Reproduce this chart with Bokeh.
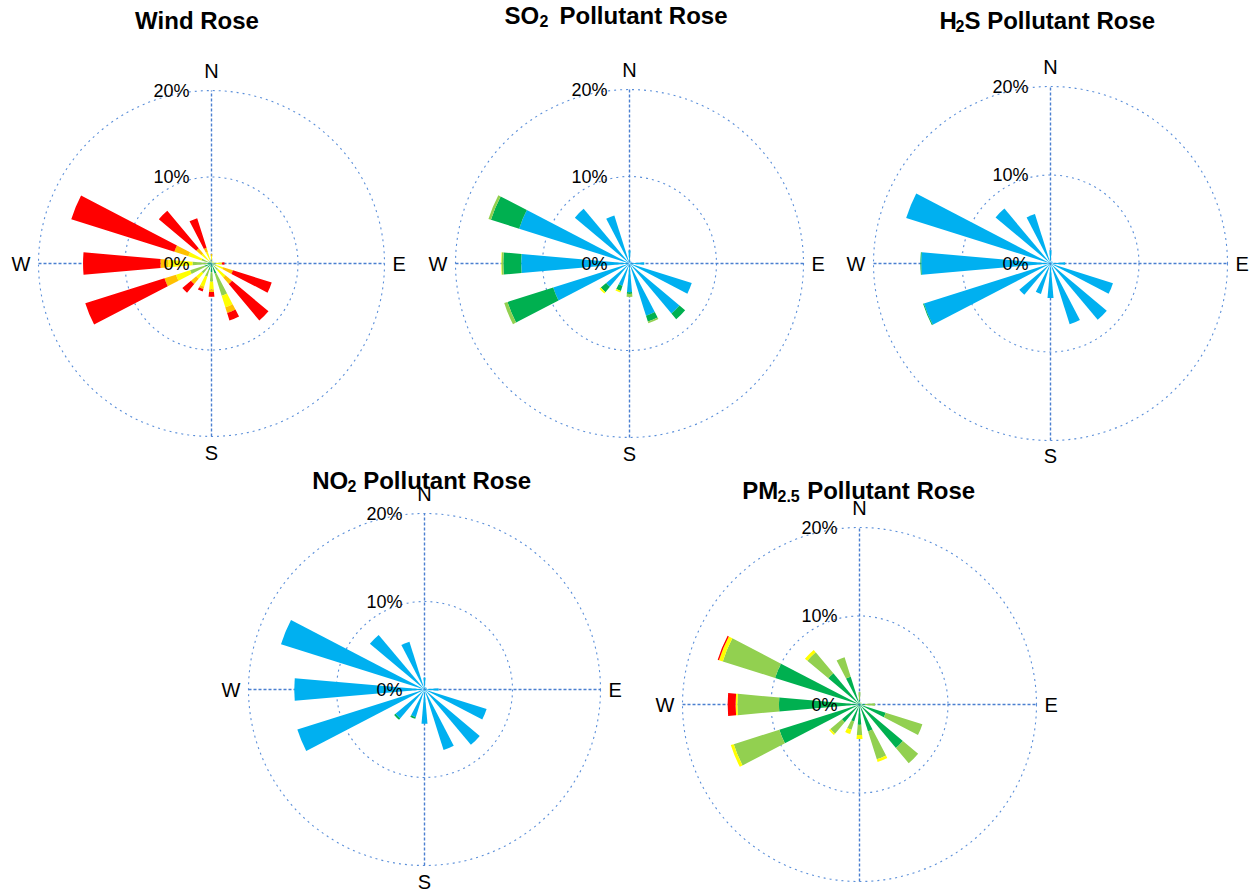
import numpy as np
from bokeh.plotting import figure
from bokeh.layouts import row, column
from bokeh.models import Range1d
from bokeh.core.properties import value
from bokeh.embed import file_html
from bokeh.resources import INLINE

# ---------------- data (percent frequency per direction) ----------------
directions = ["N", "NNE", "NE", "ENE", "E", "ESE", "SE", "SSE",
              "S", "SSW", "SW", "WSW", "W", "WNW", "NW", "NNW"]
dir_deg = [0, 22.5, 45, 67.5, 90, 112.5, 135, 157.5,
           180, 202.5, 225, 247.5, 270, 292.5, 315, 337.5]

ring_values = [10, 20]
ring_labels = ["0%", "10%", "20%"]
compass_labels = ["N", "E", "S", "W"]

# Wind rose: stacked speed classes
wind_c1 = [0.2, 0.1, 0.1, 0.1, 0.2, 0.3, 0.3, 1.2, 1.0, 0.8, 0.6, 0.8, 0.5, 0.4, 0.2, 0.2]
wind_c2 = [0.2, 0.1, 0.1, 0.1, 0.3, 0.3, 0.7, 2.7, 1.1, 0.8, 0.9, 1.8, 1.7, 0.8, 0.3, 0.3]
wind_c3 = [0.5, 0.1, 0.1, 0.1, 0.7, 0.8, 1.1, 1.4, 0.9, 1.2, 0.8, 1.7, 2.8, 1.6, 1.0, 0.9]
wind_c4 = [0.2, 0.0, 0.0, 0.0, 0.0, 1.2, 1.0, 0.7, 0.3, 0.3, 0.8, 1.4, 0.9, 1.7, 0.8, 0.5]
wind_c5 = [0.0, 0.0, 0.0, 0.0, 0.3, 4.7, 5.5, 0.9, 0.55, 0.3, 1.3, 9.6, 8.95, 12.5, 5.65, 3.6]

# SO2 pollutant rose: stacked concentration classes
so2_c1 = [1.5, 0.3, 0.3, 0.3, 1.7, 7.5, 7.5, 6.3, 3.3, 2.7, 3.5, 9.2, 12.45, 13.3, 8.2, 5.8]
so2_c2 = [0.0, 0.0, 0.0, 0.0, 0.0, 0.0, 0.85, 0.7, 0.2, 0.6, 0.8, 5.5, 2.05, 3.4, 0.0, 0.0]
so2_c3 = [0.0, 0.0, 0.0, 0.0, 0.0, 0.0, 0.0, 0.2, 0.35, 0.0, 0.0, 0.4, 0.2, 0.3, 0.0, 0.0]
so2_c4 = [0.0, 0.0, 0.0, 0.0, 0.0, 0.0, 0.0, 0.0, 0.0, 0.2, 0.2, 0.0, 0.05, 0.0, 0.0, 0.0]

# H2S pollutant rose
h2s_c1 = [1.5, 0.3, 0.3, 0.3, 1.65, 7.4, 8.3, 7.2, 3.9, 3.6, 4.6, 15.0, 14.6, 17.1, 8.1, 5.85]
h2s_c2 = [0.0, 0.0, 0.0, 0.0, 0.0, 0.0, 0.0, 0.0, 0.0, 0.0, 0.0, 0.1, 0.1, 0.0, 0.0, 0.0]

# NO2 pollutant rose
no2_c1 = [1.35, 0.3, 0.3, 0.3, 1.6, 7.4, 8.2, 7.2, 3.9, 3.3, 4.3, 15.15, 14.8, 17.1, 8.1, 5.7]
no2_c2 = [0.0, 0.0, 0.0, 0.0, 0.0, 0.0, 0.0, 0.0, 0.0, 0.2, 0.2, 0.0, 0.0, 0.0, 0.0, 0.0]

# PM2.5 pollutant rose
pm_c1 = [0.5, 0.2, 0.2, 0.2, 0.6, 3.1, 6.4, 3.2, 2.3, 2.0, 2.6, 9.5, 9.1, 10.0, 4.6, 3.3]
pm_c2 = [0.9, 0.1, 0.1, 0.1, 1.15, 4.35, 2.25, 3.3, 1.15, 1.0, 1.7, 5.4, 4.7, 6.2, 3.1, 2.3]
pm_c3 = [0.0, 0.0, 0.0, 0.0, 0.0, 0.0, 0.0, 0.3, 0.45, 0.5, 0.2, 0.35, 0.2, 0.45, 0.35, 0.0]
pm_c4 = [0.0, 0.0, 0.0, 0.0, 0.0, 0.0, 0.0, 0.0, 0.0, 0.0, 0.0, 0.0, 0.9, 0.15, 0.0, 0.0]

# ---------------- styles ----------------
DKGREEN, LTGREEN, YELLOW, ORANGE, RED, BLUE = (
    "#00B050", "#92D050", "#FFFF00", "#FFC000", "#FF0000", "#00B0F0")
RING = "#5B8FD9"
AXIS = "#4A7FD0"
FONT = value("Liberation Sans")
HALF_W = 5.0  # half wedge width in degrees
TITLE_SHIFT = 8  # px upward correction of title baselines


def make_rose(series, colors, w, h, cx, cy, s, ring_px, title_parts,
              show_s=True, s_gap=16):
    """cx, cy: centre in figure pixels from left/top; s: pixels per percent."""
    p = figure(width=w, height=h, title=None, toolbar_location=None,
               output_backend="svg", min_border=0,
               x_axis_location=None, y_axis_location=None,
               x_range=Range1d(-cx / s, (w - cx) / s),
               y_range=Range1d(-(h - cy) / s, cy / s))
    p.grid.visible = False
    p.outline_line_color = None
    p.background_fill_color = "white"
    p.border_fill_color = "white"

    # rings and cross axes
    p.circle(x=[0] * len(ring_values), y=[0] * len(ring_values), radius=ring_values,
             fill_color=None, line_color=RING, line_dash="dotted", line_width=1.1)
    rmax = max(ring_values)
    p.segment(x0=[-rmax, 0], y0=[0, -rmax], x1=[rmax, 0], y1=[0, rmax],
              line_color=AXIS, line_dash="3 2", line_width=1.4)

    # stacked wedges
    deg = np.array(dir_deg)
    start = 90 - deg - HALF_W
    end = 90 - deg + HALF_W
    base = np.zeros(len(deg))
    for vals, col in zip(series, colors):
        v = np.array(vals, dtype=float)
        top = base + v
        m = v > 0
        if m.any():
            p.annular_wedge(x=0, y=0, inner_radius=base[m], outer_radius=top[m],
                            start_angle=start[m], end_angle=end[m],
                            start_angle_units="deg", end_angle_units="deg",
                            fill_color=col, line_color=None)
        base = top

    # ring labels
    p.text(x=[-22 / s] * 3, y=[0] + ring_values, text=ring_labels,
           text_font=FONT, text_font_size="18px", text_align="right",
           text_baseline="middle", text_color="#000000")
    # compass labels
    r = ring_px / s
    xs = [0, r + 8 / s, -(r + 8 / s)]
    ys = [r + 20 / s, 0, 0]
    al = ["center", "left", "right"]
    lab = ["N", "E", "W"]
    if show_s:
        xs.append(0)
        ys.append(-(r + s_gap / s))
        al.append("center")
        lab.append("S")
    p.text(x=xs, y=ys, text=lab, text_font=FONT, text_font_size="20px",
           text_align=al, text_baseline="middle", text_color="#000000")

    # title pieces: (text, x px from centre, baseline px above centre, size, align)
    for txt, dx, dy, size, align in title_parts:
        p.text(x=[dx / s], y=[(dy + TITLE_SHIFT) / s], text=[txt], text_font=FONT,
               text_font_style="bold", text_font_size=size, text_align=align,
               text_baseline="alphabetic", text_color="#000000")
    return p


# figure 1: page x 0..420, centre (211,263)
f1 = make_rose([wind_c1, wind_c2, wind_c3, wind_c4, wind_c5],
               [DKGREEN, LTGREEN, YELLOW, ORANGE, RED],
               420, 468, 211, 263, 8.65, 173,
               [("Wind Rose", 196.5 - 211, 263 - 28.3, "24px", "center")])
# figure 2: page x 420..840, centre (629,263)
f2 = make_rose([so2_c1, so2_c2, so2_c3, so2_c4],
               [BLUE, DKGREEN, LTGREEN, YELLOW],
               420, 468, 209, 263, 8.7, 174,
               [("SO", 504 - 629, 263 - 23.3, "24px", "left"),
                ("2", 539 - 629, 263 - 28.3, "16px", "left"),
                ("Pollutant Rose", 559 - 629, 263 - 23.3, "24px", "left")])
# figure 3: page x 840..1250, centre (1050,263)
f3 = make_rose([h2s_c1, h2s_c2], [BLUE, DKGREEN],
               410, 468, 210, 263, 8.85, 177,
               [("H", 939 - 1050, 263 - 28.3, "24px", "left"),
                ("2", 955 - 1050, 263 - 33.3, "16px", "left"),
                ("S Pollutant Rose", 964 - 1050, 263 - 28.3, "24px", "left")],
               s_gap=15)
# figure 4: page x 0..640, y 468..892, centre (424,689)
f4 = make_rose([no2_c1, no2_c2], [BLUE, DKGREEN],
               640, 424, 424, 221, 8.8, 176,
               [("NO", 311.7 - 424, 689 - 488.3, "24px", "left"),
                ("2", 347 - 424, 689 - 493.3, "16px", "left"),
                ("Pollutant Rose", 362.7 - 424, 689 - 488.3, "24px", "left")])
# figure 5: page x 640..1250, centre (859,704)
f5 = make_rose([pm_c1, pm_c2, pm_c3, pm_c4], [DKGREEN, LTGREEN, YELLOW, RED],
               610, 424, 219, 236, 8.85, 177,
               [("PM", 741.7 - 859, 704 - 498.3, "24px", "left"),
                ("2.5", 777 - 859, 704 - 503.3, "16px", "left"),
                ("Pollutant Rose", 806.7 - 859, 704 - 498.3, "24px", "left")],
               show_s=False)

layout = column(row(f1, f2, f3), row(f4, f5))
open("out.html", "w").write(file_html(layout, INLINE))
